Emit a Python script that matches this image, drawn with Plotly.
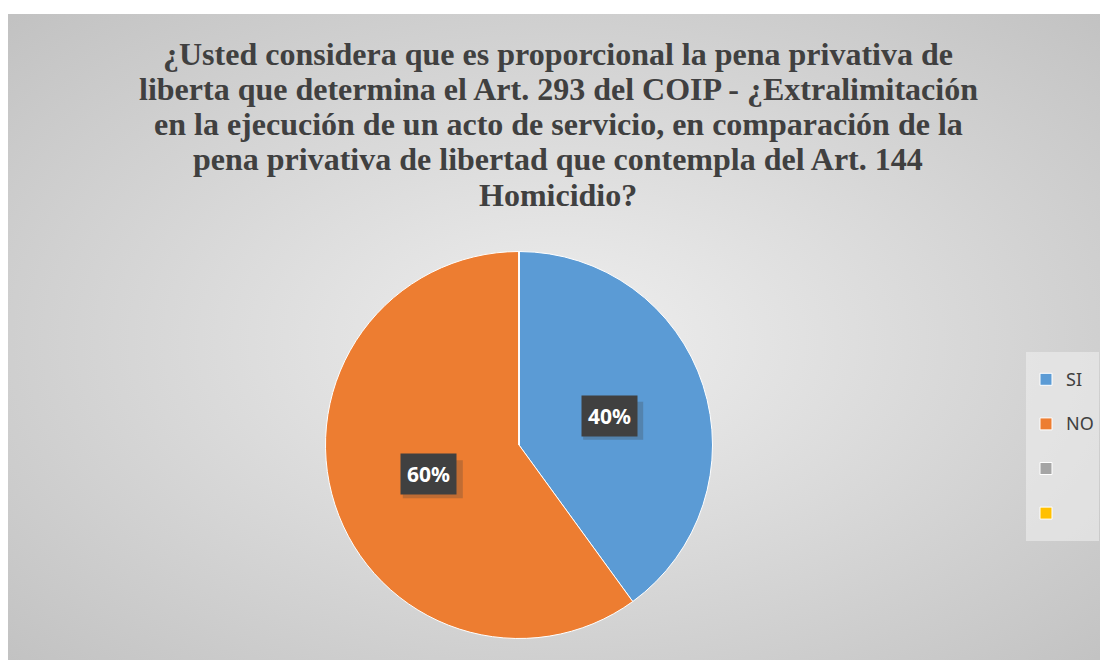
import base64
import math

import plotly.graph_objects as go

W, H = 1108, 660

labels = ["SI", "NO", " ", "  "]
values = [40, 60, 0, 0]
colors = ["#5b9bd5", "#ed7d31", "#a5a5a5", "#ffc000"]

title_lines = [
    "¿Usted considera que es proporcional la pena privativa de",
    "liberta que determina el Art. 293 del COIP - ¿Extralimitación",
    "en la ejecución de un acto de servicio, en comparación de la",
    "pena privativa de libertad que contempla del Art. 144",
    "Homicidio?",
]

# fondo gris con degradado radial
svg = (
    "<svg xmlns='http://www.w3.org/2000/svg' width='1100' height='646'>"
    "<defs><radialGradient id='g' cx='50%' cy='50%' r='70%'>"
    "<stop offset='0%' stop-color='#efefef'/>"
    "<stop offset='100%' stop-color='#c2c2c2'/>"
    "</radialGradient></defs>"
    "<rect width='1100' height='646' fill='url(#g)'/></svg>"
)
bg_src = "data:image/svg+xml;base64," + base64.b64encode(svg.encode()).decode()

# pie placement (pixels, figure coords)
cx, cy, r = 511, 437, 193.5
dom_x = [(cx - r) / W, (cx + r) / W]
dom_y = [1 - (cy + r) / H, 1 - (cy - r) / H]

legend_labels = [
    f"<span style='font-size:18px;baseline-shift:6px'>{l}</span>" if l.strip() else l
    for l in labels
]

fig = go.Figure()

fig.add_trace(
    go.Pie(
        labels=legend_labels,
        values=values,
        sort=False,
        direction="clockwise",
        rotation=0,
        marker=dict(colors=colors, line=dict(color="white", width=1)),
        textinfo="none",
        hoverinfo="label+percent",
        domain=dict(x=dom_x, y=dom_y),
    )
)

# etiquetas de datos
total = sum(values)
start = 0
annotations = []
shapes = []
for val in values:
    if val == 0:
        continue
    mid = (start + val / 2) / total * 2 * math.pi
    start += val
    px_ = cx + 0.49 * r * math.sin(mid)
    py_ = cy - 0.49 * r * math.cos(mid)
    txt = f"{round(val / total * 100)}%"
    # sombra
    shapes.append(
        dict(
            type="rect", xref="paper", yref="paper", layer="above",
            x0=(px_ + 4 - 30) / W, x1=(px_ + 4 + 30) / W,
            y0=1 - (py_ + 5 + 19) / H, y1=1 - (py_ + 5 - 19) / H,
            fillcolor="rgba(60,60,60,0.25)", line=dict(width=0),
        )
    )
    annotations.append(
        dict(
            x=px_ / W, y=1 - py_ / H, xref="paper", yref="paper",
            xanchor="center", yanchor="middle",
            text=f"<b>{txt}</b>", showarrow=False,
            font=dict(family="Noto Sans", size=21, color="white"),
            bgcolor="#404040", borderpad=6,
        )
    )

# título, una línea por anotación
title_centers = [46, 81, 116, 151.5, 187]
for line, yc in zip(title_lines, title_centers):
    annotations.append(
        dict(
            x=550 / W, y=1 - yc / H, xref="paper", yref="paper",
            xanchor="center", yanchor="middle",
            text=f"<b>{line}</b>", showarrow=False,
            font=dict(family="Liberation Serif", size=32, color="#404040"),
        )
    )

fig.update_layout(
    width=W,
    height=H,
    margin=dict(l=0, r=0, t=0, b=0, autoexpand=False),
    paper_bgcolor="white",
    images=[
        dict(
            source=bg_src, xref="paper", yref="paper",
            x=0, y=1 - 6 / H, sizex=1, sizey=(H - 6) / H,
            xanchor="left", yanchor="top", sizing="stretch", layer="below",
        )
    ],
    legend=dict(
        x=1018 / W, y=1 - 344 / H, xanchor="left", yanchor="top",
        bgcolor="rgba(238,238,238,0.6)",
        font=dict(family="Noto Sans", size=32, color="#404040"),
    ),
    shapes=shapes,
    annotations=annotations,
)

fig.write_html("out.html")
